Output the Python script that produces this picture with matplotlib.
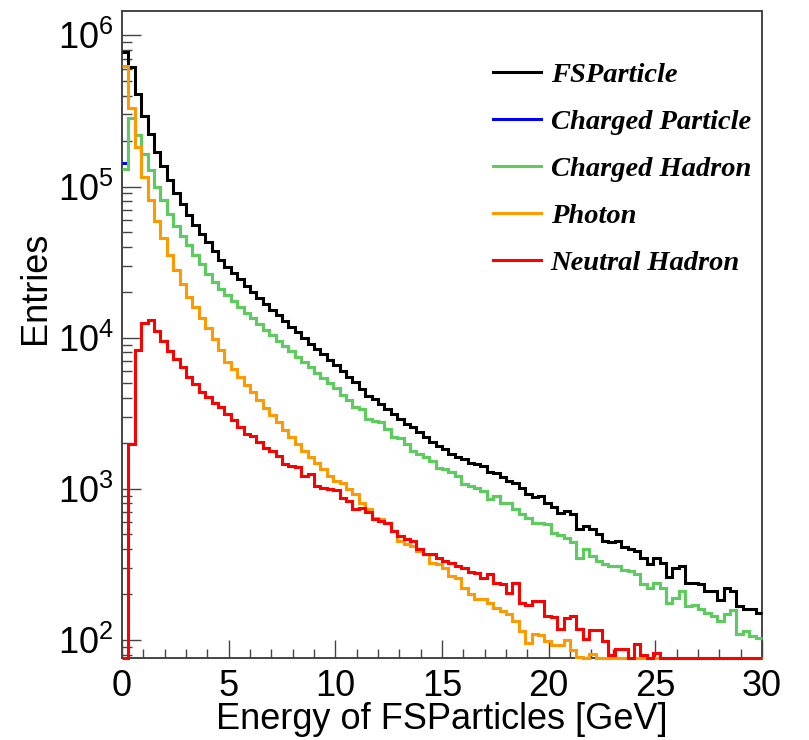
import numpy as np
import matplotlib
matplotlib.use("Agg")
import matplotlib.pyplot as plt
from matplotlib.ticker import MultipleLocator, LogLocator, NullFormatter

# 100 bins, 0-30 GeV
bin_edges = np.linspace(0, 30, 101)

fs_particle = [
    774000, 617000, 411000, 295000, 221000, 169000, 136000, 110000, 90400, 76700,
    65000, 55700, 48600, 42800, 37700, 32700, 29500, 26800, 24300, 22100,
    20200, 18400, 16800, 15300, 14060, 12900, 11800, 10850, 9950, 9120,
    8410, 7750, 7110, 6560, 6040, 5520, 5060, 4570, 4130, 3930,
    3640, 3370, 3130, 2890, 2680, 2550, 2360, 2190, 2030, 1930,
    1830, 1700, 1620, 1570, 1490, 1460, 1420, 1300, 1280, 1200,
    1120, 1100, 1020, 923, 885, 900, 811, 760, 697, 714,
    686, 541, 569, 541, 506, 453, 442, 453, 410, 399,
    388, 351, 317, 350, 325, 261, 300, 309, 240, 240,
    234, 211, 211, 183, 222, 210, 168, 160, 160, 150,
]

charged_particle = [
    144000, 285000, 218000, 165000, 128000, 99000, 81000, 66000, 55000, 47000,
    41000, 35000, 30800, 26400, 23200, 21000, 19200, 17500, 16000, 14650,
    13400, 12300, 11300, 10400, 9550, 8810, 8110, 7480, 6900, 6360,
    5860, 5430, 5010, 4620, 4200, 3880, 3490, 3370, 2900, 2790,
    2750, 2480, 2210, 2170, 1980, 1790, 1710, 1630, 1530, 1380,
    1350, 1300, 1220, 1070, 1050, 1020, 970, 855, 900, 811,
    800, 733, 679, 645, 598, 598, 583, 514, 495, 476,
    442, 351, 398, 360, 333, 320, 309, 309, 290, 284,
    272, 234, 222, 240, 222, 177, 191, 211, 168, 170,
    160, 150, 144, 134, 148, 157, 109, 115, 106, 103,
]

charged_hadron = [
    131000, 285000, 218000, 165000, 128000, 99000, 81000, 66000, 55000, 47000,
    41000, 35000, 30800, 26400, 23200, 21000, 19200, 17500, 16000, 14650,
    13400, 12300, 11300, 10400, 9550, 8810, 8110, 7480, 6900, 6360,
    5860, 5430, 5010, 4620, 4200, 3880, 3490, 3370, 2900, 2790,
    2750, 2480, 2210, 2170, 1980, 1790, 1710, 1630, 1530, 1380,
    1350, 1300, 1220, 1070, 1050, 1020, 970, 855, 900, 811,
    800, 733, 679, 645, 598, 598, 583, 514, 495, 476,
    442, 351, 398, 360, 333, 320, 309, 309, 290, 284,
    272, 234, 222, 240, 222, 177, 191, 211, 168, 170,
    160, 150, 144, 134, 148, 157, 109, 115, 106, 103,
]

photon = [
    630000, 330000, 184000, 115000, 81000, 59600, 45700, 35000, 28100, 22700,
    18700, 15900, 13600, 11600, 9800, 8280, 6860, 6200, 5460, 4890,
    4350, 3870, 3450, 3090, 2750, 2450, 2190, 1980, 1790, 1630,
    1490, 1350, 1220, 1130, 1090, 995, 931, 811, 733, 645,
    630, 598, 527, 453, 431, 420, 388, 370, 325, 317,
    301, 265, 259, 222, 201, 186, 186, 177, 162, 156,
    148, 134, 114, 96, 109, 108, 98, 93, 92, 100,
    86, 77, 74, 81, 60, 55, 50, 45, 40, 35,
    30, 28, 25, 22, 20, 18, 15, 12, 10, 8,
    6, 5, 4, 3, 2, 2, 1, 1, 0, 0,
]

neutral_hadron = [
    0, 1995, 8340, 12600, 13100, 11000, 9550, 8200, 7230, 6360,
    5520, 4930, 4350, 4030, 3720, 3500, 3130, 2850, 2550, 2320,
    2240, 2030, 1870, 1790, 1650, 1470, 1420, 1400, 1220, 1250,
    1050, 1020, 995, 980, 875, 833, 733, 752, 708, 630,
    614, 598, 527, 489, 464, 453, 398, 370, 370, 351,
    333, 325, 309, 301, 280, 279, 259, 275, 240, 234,
    206, 240, 177, 171, 180, 180, 144, 141, 118, 140,
    144, 118, 101, 116, 117, 98, 80, 87, 87, 70,
    94, 80, 65, 82, 60, 55, 50, 45, 40, 35,
    30, 25, 20, 18, 15, 12, 10, 8, 5, 3,
]

series = [
    ("FSParticle", fs_particle, "#000000"),
    ("Charged Particle", charged_particle, "#0000ff"),
    ("Charged Hadron", charged_hadron, "#5dcc5d"),
    ("Photon", photon, "#ff9900"),
    ("Neutral Hadron", neutral_hadron, "#ff0000"),
]

y_min, y_max = 76, 1.45e6

plt.rcParams['font.family'] = ['Liberation Sans', 'DejaVu Sans']
plt.rcParams['mathtext.fontset'] = 'custom'
plt.rcParams['mathtext.rm'] = 'Liberation Sans'

fig = plt.figure(figsize=(8.09, 7.4), dpi=100)
ax = fig.add_axes([122 / 809, 1 - 658 / 740, 640 / 809, 647 / 740])

for name, vals, col in series:
    # ROOT draws entries below the minimum along the bottom of the frame
    v = np.clip(np.array(vals, dtype=float), y_min, None)
    ax.stairs(v, bin_edges, baseline=None, color=col, lw=2.2,
              label=name, zorder=3, clip_on=False)

ax.set_yscale('log')
ax.set_xlim(0, 30)
ax.set_ylim(y_min, y_max)

ax.xaxis.set_major_locator(MultipleLocator(5))
ax.xaxis.set_minor_locator(MultipleLocator(1))
ax.yaxis.set_major_locator(LogLocator(base=10))
ax.yaxis.set_minor_locator(LogLocator(base=10, subs=np.arange(2, 10)))
ax.yaxis.set_minor_formatter(NullFormatter())

axis_col = '#444444'
for s in ax.spines.values():
    s.set_color(axis_col)
    s.set_linewidth(1.4)
ax.tick_params(which='both', direction='in', top=False, right=False,
               color=axis_col, width=1.0, labelsize=26)
ax.tick_params(axis='x', which='major', length=13, pad=8)
ax.tick_params(axis='x', which='minor', length=6.5)
ax.tick_params(axis='y', which='major', length=14, pad=6)
ax.tick_params(axis='y', which='minor', length=7)

ax.set_xlabel('Energy of FSParticles [GeV]', fontsize=26)
ax.set_ylabel('Entries', fontsize=26)
ax.xaxis.set_label_coords(0.5, -0.068)
ax.yaxis.set_label_coords(-0.108, 0.572)

leg = ax.legend(loc='upper left', bbox_to_anchor=(0.580, 0.921),
                frameon=False, borderpad=0, borderaxespad=0,
                handlelength=1.67, handletextpad=0.35, labelspacing=0.74,
                prop={'family': 'Liberation Serif', 'weight': 'bold',
                      'style': 'italic', 'size': 20.5})
for line in leg.get_lines():
    line.set_linewidth(2.2)

fig.savefig('out.png', dpi=100)
